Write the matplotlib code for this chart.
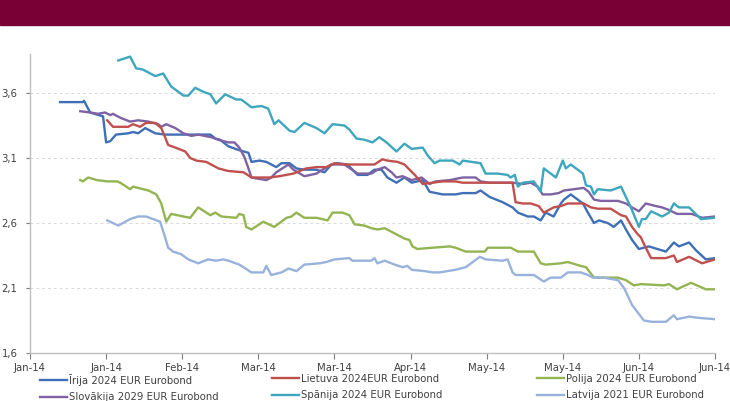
import matplotlib
matplotlib.use("Agg")
import matplotlib.pyplot as plt
from matplotlib.patches import Rectangle

# days since 1 Jan 2014, yields in %
irija_days = [7.9, 13.9, 14.2, 15.8, 19.2, 20.0, 21.1, 22.6, 25.8, 27.1, 28.4, 30.3, 32.9, 35.5, 42.1,
              47.4, 48.7, 50.0, 52.1, 55.0, 57.4, 58.2, 60.3, 62.1, 64.7, 66.1, 68.2, 70.0, 72.1, 75.3,
              77.4, 79.2, 80.8, 83.4, 86.1, 88.7, 90.5, 92.4, 93.9, 96.3, 98.4, 100.3, 103.2, 105.0,
              108.4, 111.8, 113.7, 117.1, 118.4, 120.8, 124.2, 126.8, 128.2, 130.8, 132.4, 134.2, 135.5,
              137.6, 139.5, 140.3, 142.1, 145.3, 146.6, 148.2, 149.5, 151.8, 153.4, 155.3, 156.6, 158.2,
              160.0, 162.6, 167.1, 169.2, 170.5, 173.2, 175.0, 177.6, 180.0]
irija = [3.53, 3.53, 3.54, 3.45, 3.42, 3.22, 3.23, 3.28, 3.29, 3.30, 3.29, 3.33, 3.29, 3.28, 3.28,
         3.28, 3.25, 3.24, 3.19, 3.16, 3.14, 3.07, 3.08, 3.07, 3.03, 3.06, 3.06, 3.02, 3.01, 3.01,
         2.99, 3.05, 3.06, 3.05, 2.97, 2.97, 3.01, 3.01, 2.95, 2.91, 2.95, 2.91, 2.93, 2.84,
         2.82, 2.82, 2.83, 2.83, 2.85, 2.80, 2.76, 2.72, 2.68, 2.65, 2.65, 2.62, 2.68,
         2.65, 2.75, 2.78, 2.82, 2.75, 2.68, 2.60, 2.62, 2.60, 2.57, 2.62, 2.55, 2.47,
         2.40, 2.42, 2.38, 2.45, 2.42, 2.45, 2.39, 2.32, 2.33]

lietuva_days = [20.3, 21.8, 25.8, 27.1, 28.9, 30.5, 32.9, 34.5, 35.5, 36.3, 38.2, 40.8, 42.1, 43.7,
                46.3, 47.6, 49.5, 52.1, 56.1, 58.2, 60.3, 62.9, 65.5, 69.2, 72.6, 75.3, 77.9, 80.0,
                82.6, 86.1, 90.5, 92.6, 93.9, 96.6, 98.4, 101.1, 103.2, 105.8, 108.4, 111.8, 113.7,
                118.9, 126.8, 127.6, 129.5, 131.6, 133.7, 135.0, 137.6, 139.5, 141.3, 145.5, 147.4,
                149.2, 152.6, 155.3, 156.6, 158.2, 159.5, 160.5, 161.8, 163.2, 167.1, 169.2, 170.0,
                173.2, 176.6, 180.0]
lietuva = [3.39, 3.34, 3.34, 3.36, 3.34, 3.37, 3.37, 3.33, 3.26, 3.20, 3.18, 3.15, 3.10, 3.08,
           3.07, 3.05, 3.02, 3.00, 2.99, 2.95, 2.95, 2.95, 2.96, 2.98, 3.02, 3.03, 3.03, 3.06,
           3.05, 3.05, 3.05, 3.09, 3.08, 3.07, 3.05, 2.97, 2.90, 2.91, 2.92, 2.92, 2.91,
           2.91, 2.91, 2.76, 2.75, 2.75, 2.73, 2.68, 2.72, 2.73, 2.75, 2.75, 2.72,
           2.71, 2.71, 2.66, 2.65, 2.57, 2.52, 2.49, 2.41, 2.33, 2.33, 2.35, 2.30,
           2.34, 2.29, 2.32]

polija_days = [13.2, 13.9, 15.3, 17.6, 20.3, 22.9, 23.7, 26.3, 27.1, 31.1, 33.2, 34.5, 35.8, 37.1,
               40.3, 42.1, 44.2, 47.4, 48.7, 50.3, 54.2, 55.0, 56.1, 56.8, 58.2, 61.3, 64.2, 67.4,
               68.7, 70.0, 72.1, 75.3, 78.2, 79.5, 82.1, 83.9, 85.3, 87.9, 89.7, 91.3, 93.2, 95.8,
               98.4, 99.7, 100.5, 101.8, 105.8, 110.3, 111.8, 114.5, 119.5, 120.3, 126.3, 128.2,
               132.4, 134.2, 135.5, 139.5, 141.3, 144.7, 146.1, 148.2, 154.5, 156.6, 158.7, 160.5,
               166.6, 167.9, 170.0, 173.7, 177.6, 180.0]
polija = [2.93, 2.92, 2.95, 2.93, 2.92, 2.92, 2.91, 2.86, 2.88, 2.85, 2.82, 2.75, 2.61, 2.67,
          2.65, 2.64, 2.72, 2.66, 2.68, 2.65, 2.64, 2.67, 2.66, 2.57, 2.55, 2.61, 2.57, 2.64,
          2.65, 2.68, 2.64, 2.64, 2.62, 2.68, 2.68, 2.66, 2.59, 2.58, 2.56, 2.55, 2.56, 2.52,
          2.48, 2.47, 2.42, 2.40, 2.41, 2.42, 2.41, 2.38, 2.38, 2.41, 2.41, 2.38,
          2.38, 2.29, 2.28, 2.29, 2.30, 2.27, 2.26, 2.18, 2.18, 2.16, 2.12, 2.13,
          2.12, 2.13, 2.09, 2.14, 2.09, 2.09]

slovakija_days = [13.2, 15.8, 17.9, 19.7, 21.1, 21.8, 23.7, 26.3, 28.4, 31.1, 33.7, 34.5, 35.8, 38.2,
                  40.3, 42.4, 44.2, 47.6, 49.5, 52.1, 53.7, 55.0, 56.3, 57.4, 58.2, 60.0, 62.1, 63.4,
                  64.7, 67.9, 69.2, 72.1, 75.3, 77.4, 79.2, 82.6, 86.1, 89.7, 91.3, 93.2, 95.0, 96.3,
                  97.9, 100.3, 102.9, 105.0, 106.6, 110.3, 113.7, 117.1, 118.4, 120.8, 126.8, 129.5,
                  131.6, 133.4, 134.7, 136.8, 138.9, 140.3, 145.5, 146.8, 148.2, 150.0, 154.5, 156.6,
                  158.2, 160.0, 161.8, 164.5, 166.1, 167.9, 170.0, 173.9, 176.6, 180.0]
slovakija = [3.46, 3.45, 3.44, 3.45, 3.43, 3.44, 3.41, 3.38, 3.39, 3.38, 3.36, 3.34, 3.36, 3.33,
             3.29, 3.27, 3.28, 3.26, 3.24, 3.22, 3.22, 3.18, 3.11, 3.02, 2.95, 2.94, 2.93, 2.95,
             2.99, 3.05, 3.01, 2.96, 2.98, 3.02, 3.05, 3.05, 2.98, 2.98, 3.01, 3.03, 2.99, 2.95,
             2.96, 2.93, 2.95, 2.90, 2.92, 2.93, 2.95, 2.95, 2.92, 2.91, 2.91, 2.90,
             2.91, 2.88, 2.82, 2.82, 2.83, 2.85, 2.87, 2.84, 2.78, 2.77, 2.77, 2.75,
             2.72, 2.69, 2.75, 2.73, 2.72, 2.70, 2.67, 2.67, 2.64, 2.65]

spanija_days = [23.2, 26.3, 27.9, 29.7, 32.9, 35.0, 37.1, 40.3, 41.6, 43.4, 45.5, 47.4, 48.9, 51.3,
                54.2, 55.5, 58.2, 60.8, 62.6, 64.2, 65.3, 68.2, 69.5, 72.1, 75.3, 77.4, 79.5, 82.6,
                83.9, 85.8, 87.9, 90.0, 91.8, 93.7, 96.3, 98.4, 100.3, 103.2, 104.5, 106.3, 107.6,
                111.1, 112.9, 113.7, 118.4, 119.7, 122.9, 125.5, 126.3, 127.4, 128.2, 129.5, 132.4,
                134.2, 135.0, 138.2, 140.0, 140.8, 142.1, 145.3, 146.1, 147.4, 148.2, 149.2, 152.6,
                155.3, 156.1, 157.9, 160.0, 160.8, 161.8, 163.2, 166.1, 167.9, 169.2, 170.5, 173.2,
                176.3, 180.0]
spanija = [3.85, 3.88, 3.79, 3.78, 3.73, 3.75, 3.65, 3.58, 3.58, 3.64, 3.61, 3.59, 3.52, 3.59,
           3.55, 3.55, 3.49, 3.50, 3.48, 3.36, 3.39, 3.31, 3.30, 3.37, 3.33, 3.29, 3.36, 3.35,
           3.32, 3.25, 3.24, 3.22, 3.26, 3.22, 3.15, 3.21, 3.17, 3.18, 3.12, 3.06, 3.08,
           3.08, 3.05, 3.08, 3.06, 2.98, 2.98, 2.97, 2.95, 2.97, 2.88, 2.91, 2.92,
           2.84, 3.02, 2.95, 3.08, 3.02, 3.05, 2.98, 2.89, 2.88, 2.82, 2.86, 2.85,
           2.88, 2.83, 2.72, 2.57, 2.63, 2.63, 2.69, 2.65, 2.68, 2.75, 2.72, 2.72,
           2.63, 2.64]

latvija_days = [20.3, 23.2, 26.3, 28.4, 30.5, 34.2, 35.5, 36.3, 37.6, 39.7, 41.6, 44.2, 46.8, 48.9,
                50.8, 52.1, 55.0, 58.2, 61.3, 62.1, 63.4, 66.1, 67.9, 70.0, 72.1, 76.1, 77.9, 80.0,
                83.9, 84.7, 89.7, 90.5, 91.3, 93.2, 95.8, 97.9, 99.2, 100.3, 103.7, 105.8, 107.6,
                111.8, 114.5, 118.2, 119.7, 124.2, 125.5, 126.8, 127.6, 132.4, 135.0, 136.8, 139.5,
                141.3, 144.7, 146.6, 147.9, 150.8, 154.5, 156.1, 158.2, 161.3, 163.4, 167.1, 169.2,
                170.0, 173.2, 175.8, 180.0]
latvija = [2.62, 2.58, 2.63, 2.65, 2.65, 2.61, 2.49, 2.41, 2.38, 2.36, 2.32, 2.29, 2.32, 2.31,
           2.32, 2.31, 2.28, 2.22, 2.22, 2.27, 2.20, 2.22, 2.25, 2.23, 2.28, 2.29, 2.30, 2.32,
           2.33, 2.31, 2.31, 2.33, 2.29, 2.31, 2.28, 2.26, 2.27, 2.24, 2.23, 2.22, 2.22,
           2.24, 2.26, 2.34, 2.32, 2.31, 2.32, 2.22, 2.20, 2.20, 2.15, 2.18, 2.18,
           2.22, 2.22, 2.20, 2.18, 2.18, 2.16, 2.10, 1.97, 1.85, 1.84, 1.84, 1.89,
           1.86, 1.88, 1.87, 1.86]

tick_days = [0, 20, 40, 60, 80, 100, 120, 140, 160, 180]
tick_labels = ['Jan-14', 'Jan-14', 'Feb-14', 'Mar-14', 'Mar-14', 'Apr-14', 'May-14', 'May-14',
               'Jun-14', 'Jun-14']
y_ticks = [1.6, 2.1, 2.6, 3.1, 3.6]

series = [
    ('Īrija 2024 EUR Eurobond', irija_days, irija, '#3f6fb6'),
    ('Slovākija 2029 EUR Eurobond', slovakija_days, slovakija, '#7f62a3'),
    ('Lietuva 2024EUR Eurobond', lietuva_days, lietuva, '#c0504d'),
    ('Spānija 2024 EUR Eurobond', spanija_days, spanija, '#3ea6bd'),
    ('Polija 2024 EUR Eurobond', polija_days, polija, '#92b552'),
    ('Latvija 2021 EUR Eurobond', latvija_days, latvija, '#98b2dc'),
]

plt.rcParams['font.family'] = 'DejaVu Sans'
fig = plt.figure(figsize=(7.30, 4.01), dpi=100)

# maroon header band
fig.patches.append(Rectangle((0, 1 - 25 / 401), 1, 25 / 401, transform=fig.transFigure,
                             color='#780035', zorder=0))

ax = fig.add_axes([30 / 730, 1 - 353 / 401, 685 / 730, (353 - 54) / 401])

handles = []
for name, d, v, c in series:
    line, = ax.plot(d, v, color=c, lw=1.7, label=name, solid_joinstyle='round')
    handles.append(line)

ax.set_xlim(0, 180)
ax.set_ylim(1.6, 3.9)
ax.set_xticks(tick_days)
ax.set_xticklabels(tick_labels)
ax.set_yticks(y_ticks)
ax.set_yticklabels([f'{t:.1f}'.replace('.', ',') for t in y_ticks])
ax.tick_params(axis='both', labelsize=7.3, colors='#7f7f7f', labelcolor='#404040', length=4, width=0.8)
ax.tick_params(axis='y', length=3, pad=6)
ax.tick_params(axis='x', pad=3)
ax.grid(axis='y', color='#d9d9d9', linestyle=(0, (3, 3)), lw=0.7)
for side in ['top', 'right']:
    ax.spines[side].set_visible(False)
for side in ['left', 'bottom']:
    ax.spines[side].set_color('#bfbfbf')
    ax.spines[side].set_linewidth(1.0)

# legend: three fixed-width columns like Excel
col_x = [40 / 730, 272 / 730, 537 / 730]
for i, x0 in enumerate(col_x):
    leg = fig.legend(handles=handles[2 * i:2 * i + 2], loc='upper left',
                     bbox_to_anchor=(x0, 1 - 374 / 401), frameon=False, fontsize=7.3,
                     handlelength=2.7, handletextpad=0.2, labelspacing=0.62,
                     borderaxespad=0, borderpad=0)
    for t in leg.get_texts():
        t.set_color('#404040')

fig.savefig('out.png', dpi=100)
